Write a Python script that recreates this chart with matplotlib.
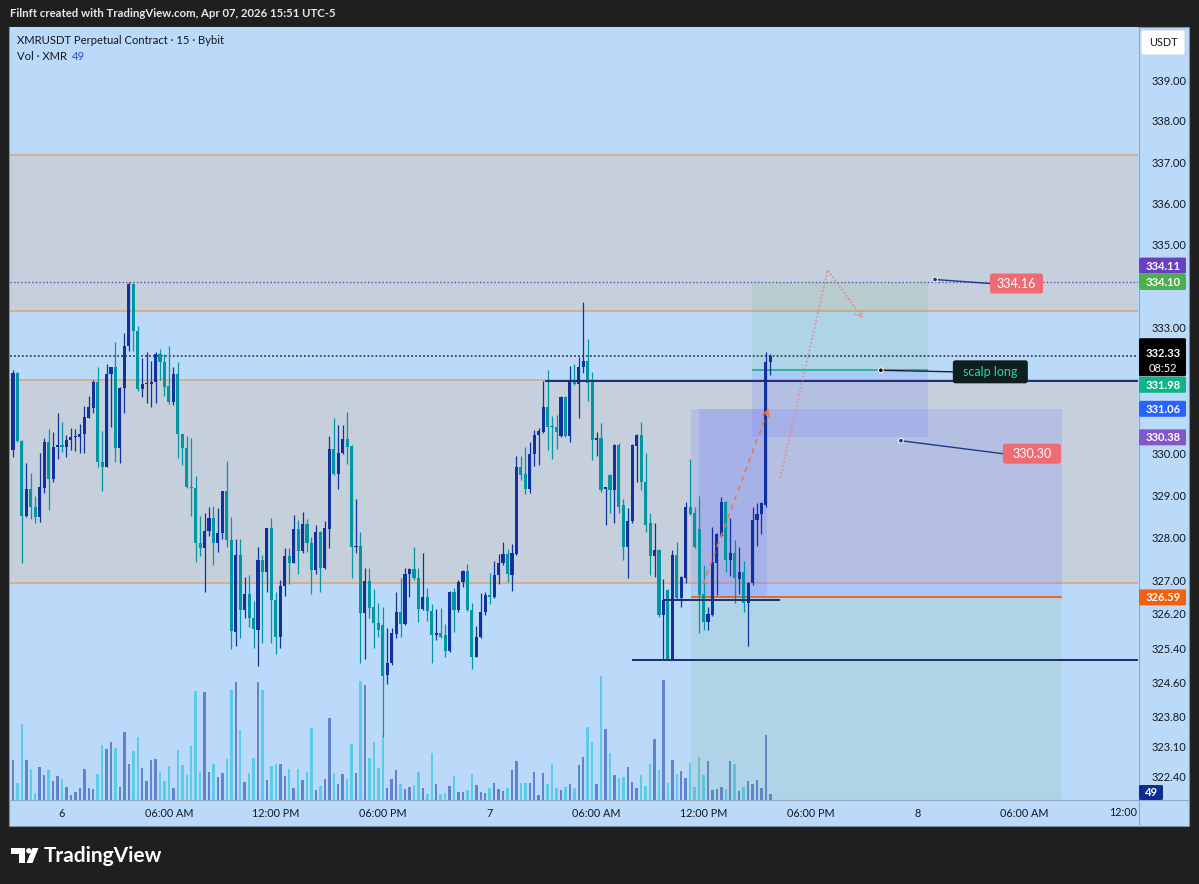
import numpy as np
import matplotlib
matplotlib.use("Agg")
import matplotlib.pyplot as plt
from matplotlib.patches import Rectangle, Polygon, Circle, FancyBboxPatch
from matplotlib.lines import Line2D
from matplotlib.ticker import FixedLocator, NullLocator, FixedFormatter, NullFormatter
from matplotlib.transforms import IdentityTransform

plt.rcParams['font.family'] = ['Lato', 'DejaVu Sans']

# ---------------- data (15m candles, bar 0 = Apr 6 00:00) ----------------
first_bar = -11
opens = [330.08, 331.91, 330.29, 328.52, 329.16, 328.73, 328.49, 329.18, 330.27, 329.39, 330.15,
         330.20, 330.15, 330.32, 330.39, 330.39, 330.46, 330.84, 331.08, 331.69, 329.80,
         329.68, 331.88, 332.05, 330.13, 331.55, 332.57, 334.06, 332.92, 331.53, 331.65,
         331.65, 331.69, 332.36, 332.19, 331.60, 331.22, 331.88, 330.46, 330.13, 329.21,
         329.18, 327.88, 327.76, 328.16, 328.47, 327.88, 328.11, 329.11, 327.95, 325.77,
         327.59, 326.29, 326.67, 326.10, 325.82, 327.48, 327.19, 328.23, 326.53, 325.65,
         326.86, 327.57, 327.40, 328.21, 327.69, 328.33, 327.88, 327.24, 328.14, 327.29,
         328.21, 330.10, 329.51, 330.01, 330.34, 330.18, 327.78, 327.81, 326.22, 326.98,
         326.36, 325.98, 325.95, 324.77, 325.04, 325.72, 326.24, 325.96, 327.14, 327.26,
         327.05, 326.31, 326.60, 326.27, 325.70, 325.75, 325.70, 325.32, 326.72, 326.29,
         326.95, 327.21, 326.29, 325.20, 325.65, 326.24, 326.65, 326.60, 327.12, 327.40,
         327.62, 327.12, 327.62, 329.68, 329.51, 329.16, 329.99, 330.44, 330.51, 331.10,
         330.65, 330.63, 330.41, 331.34, 330.41, 331.76, 331.65, 332.05, 332.21, 331.69,
         330.32, 330.37, 329.16, 329.49, 329.13, 330.20, 328.78, 327.78, 328.40, 330.18,
         330.44, 329.32, 328.35, 327.57, 327.71, 326.17, 326.77, 325.15, 327.59, 326.57,
         327.05, 328.73, 328.59, 328.21, 326.67, 326.01, 326.17, 327.40, 328.04, 328.85,
         327.48, 327.64, 327.02, 327.19, 326.46, 326.93, 328.42, 328.57, 328.78, 332.17]
closes = [331.91, 330.30, 328.52, 329.16, 328.73, 328.49, 329.21, 330.27, 329.39, 330.15, 330.20,
          330.15, 330.32, 330.39, 330.41, 330.46, 330.86, 331.10, 331.69, 329.80, 329.68,
          331.88, 332.05, 330.13, 331.55, 332.57, 334.06, 332.92, 331.53, 331.65, 331.67,
          331.69, 332.36, 332.17, 331.57, 331.22, 331.88, 330.46, 330.13, 329.21, 329.18,
          327.88, 327.76, 328.16, 328.47, 327.88, 328.11, 329.11, 327.95, 325.79, 327.59,
          326.29, 326.67, 326.10, 325.84, 327.48, 327.19, 328.23, 326.53, 325.65, 326.86,
          327.57, 327.40, 328.21, 327.69, 328.33, 327.88, 327.24, 328.14, 327.29, 328.23,
          330.10, 329.51, 330.01, 330.34, 330.15, 327.78, 327.81, 326.22, 326.98, 326.34,
          325.98, 325.82, 324.75, 325.06, 325.75, 326.24, 325.96, 327.14, 327.26, 327.05,
          326.31, 326.60, 326.27, 325.70, 325.75, 325.67, 325.32, 326.72, 326.29, 326.95,
          327.21, 326.29, 325.18, 325.65, 326.24, 326.65, 326.60, 327.12, 327.40, 327.62,
          327.14, 327.64, 329.68, 329.49, 329.16, 329.99, 330.44, 330.53, 331.10, 330.63,
          330.63, 330.51, 331.34, 330.41, 331.76, 331.65, 332.05, 332.21, 331.67, 330.32,
          330.37, 329.13, 329.18, 329.13, 330.20, 328.73, 327.78, 328.40, 330.20, 330.44,
          329.32, 328.30, 327.57, 327.71, 326.17, 326.53, 325.15, 327.59, 326.57, 327.07,
          328.73, 328.57, 327.78, 326.65, 326.01, 326.20, 327.43, 328.09, 328.85, 327.48,
          327.64, 327.05, 327.19, 326.46, 326.93, 328.42, 328.57, 328.83, 332.19, 332.33]
highs = [331.98, 331.93, 330.32, 329.77, 329.54, 328.99, 330.01, 330.37, 330.58, 330.51, 330.96,
         330.74, 330.44, 330.60, 330.58, 330.70, 331.12, 331.36, 331.74, 332.07, 330.53,
         332.12, 332.07, 332.66, 331.57, 332.88, 334.11, 334.08, 333.04, 332.28, 332.43,
         332.21, 332.43, 332.50, 332.38, 332.57, 332.07, 332.19, 330.46, 330.41, 330.37,
         329.47, 328.52, 328.59, 328.73, 328.75, 328.71, 329.11, 329.82, 328.49, 327.97,
         327.97, 327.07, 327.12, 326.50, 327.78, 327.59, 328.23, 328.47, 326.72, 327.00,
         327.76, 327.76, 328.54, 328.42, 328.61, 328.45, 328.02, 328.30, 328.16, 328.40,
         330.41, 330.84, 330.67, 330.67, 330.98, 330.20, 328.92, 328.14, 327.29, 327.29,
         326.79, 326.46, 326.36, 325.86, 325.86, 326.72, 327.05, 327.29, 327.29, 327.78,
         327.29, 327.64, 326.81, 326.43, 326.31, 326.34, 325.96, 326.74, 326.81, 327.00,
         327.24, 327.38, 326.46, 325.91, 326.69, 326.72, 327.17, 327.45, 327.62, 327.90,
         327.74, 327.85, 329.94, 329.94, 330.15, 330.27, 330.55, 330.60, 331.72, 331.98,
         330.89, 330.91, 331.36, 331.36, 332.09, 332.14, 332.31, 333.63, 332.73, 331.95,
         330.51, 330.72, 329.21, 329.51, 330.22, 330.25, 328.92, 328.71, 330.22, 330.46,
         330.74, 330.01, 328.59, 328.35, 327.73, 327.02, 326.79, 327.71, 327.90, 327.09,
         328.85, 329.87, 328.73, 328.99, 327.36, 326.36, 328.26, 328.11, 328.97, 328.87,
         328.47, 327.95, 327.78, 327.45, 326.95, 328.73, 328.83, 328.85, 332.43, 332.38]
lows = [329.92, 330.27, 327.40, 328.49, 328.45, 328.35, 328.38, 329.06, 328.66, 329.32, 329.87,
        330.03, 329.92, 330.08, 330.06, 330.01, 330.01, 330.84, 330.96, 329.68, 329.11,
        329.68, 330.63, 329.80, 329.77, 330.96, 332.45, 332.45, 331.48, 331.34, 331.20,
        331.10, 331.20, 331.74, 331.36, 331.17, 331.15, 329.89, 329.73, 329.18, 328.52,
        327.43, 327.57, 326.72, 328.04, 327.36, 327.66, 327.97, 327.78, 325.37, 325.46,
        325.63, 326.10, 325.89, 325.41, 324.99, 325.51, 326.72, 325.51, 325.27, 325.39,
        326.62, 326.91, 327.40, 327.14, 327.64, 327.66, 326.67, 327.14, 326.72, 327.26,
        327.76, 329.49, 329.16, 329.99, 329.75, 327.05, 327.64, 325.06, 325.15, 326.10,
        325.41, 325.65, 323.33, 324.56, 325.01, 325.63, 325.67, 325.94, 326.60, 327.00,
        326.01, 326.29, 326.03, 325.04, 325.58, 325.63, 325.18, 325.30, 325.77, 326.24,
        326.84, 326.27, 324.92, 325.18, 325.63, 326.17, 326.43, 326.57, 326.91, 327.36,
        326.95, 326.74, 327.60, 329.37, 329.04, 329.06, 329.70, 329.73, 330.49, 330.08,
        329.87, 330.10, 330.39, 330.39, 330.27, 331.62, 330.84, 331.91, 331.24, 329.84,
        329.94, 329.09, 328.30, 328.59, 328.35, 328.59, 327.48, 327.05, 328.35, 329.32,
        329.13, 328.14, 327.12, 327.07, 326.13, 325.11, 325.11, 325.11, 326.53, 326.36,
        326.93, 328.54, 327.76, 325.75, 325.82, 325.82, 326.15, 326.65, 328.02, 327.19,
        327.09, 326.46, 326.67, 326.24, 325.44, 326.88, 327.81, 328.09, 328.73, 331.86]
volumes = [328, 139, 621, 328, 252, 57, 268, 205, 244, 158, 197, 172, 104, 41, 66, 101, 252, 101, 88, 213,
           449, 418, 478, 426, 104, 558, 293, 399, 519, 260, 158, 330, 336, 230, 158, 276, 101, 410, 287, 207,
           440, 894, 230,
           886, 227, 293, 189, 221, 336, 902, 968, 574, 150, 221, 347, 968, 902, 164, 276, 293, 293, 197, 252,
           96, 252, 166, 227, 590, 80, 117, 172, 670, 219, 129, 213, 172, 457, 221, 976, 943, 344, 473, 262,
           533, 96, 175, 246,
           129, 88, 109, 121, 227, 96, 49, 385, 129, 49, 57, 112, 197, 66, 66, 80, 213, 121, 66, 57,
           96, 142, 88, 74, 96, 244, 322, 142, 142, 142, 230, 41, 221, 129, 293, 96, 80, 109, 129, 96,
           285, 355, 599,
           478, 129, 1017, 582, 385, 205, 180, 186, 268, 150, 96, 205, 112, 293, 503, 244, 984, 142, 330, 213,
           235, 180, 301, 104, 355, 205, 322, 80, 88, 109, 88, 322, 293, 74, 104, 158, 129, 166, 96, 535, 49]

price_ticks = [339.0, 338.0, 337.0, 336.0, 335.0, 333.0, 330.0, 329.0, 328.0, 327.0,
               326.2, 325.4, 324.6, 323.8, 323.1, 322.4]
time_tick_bars = [0, 24, 48, 72, 96, 120, 144, 168, 192, 216]
time_tick_labels = ["6", "06:00 AM", "12:00 PM", "06:00 PM", "7", "06:00 AM", "12:00 PM", "06:00 PM", "8", "06:00 AM"]

zones = [(326.92, 331.76), (333.41, 337.17)]
day_high = 334.11
last_price = 332.33
pos1 = dict(x0=141.2, x1=224.5, entry=326.59, upper=331.06, lower=321.0)
pos1_box = dict(x0=143.0, x1=158.2)
pos2 = dict(x0=154.9, x1=194.4, entry=331.98, target=334.10, stop=330.38)
navy_lines = [(331.72, 108.4, None), (326.53, 134.9, 161.2), (325.11, 127.9, None)]
red_path = [(161.2, 329.42), (171.9, 334.39), (179.6, 333.25)]
orange_arrow = [(143.9, 326.90), (158.5, 331.03)]

# ---------------- colours ----------------
BG = '#bbdafa'
ZONE = '#c5d0dc'
ZLINE = '#d9a97b'
UP = '#11319c'
DN = '#0096a2'
VUP = '#6282d0'
VDN = '#5ccbe8'
NAVY = '#1b2d6e'
DARK = '#1f1f1f'
TXT = '#131722'

W, H = 1199, 884
fig = plt.figure(figsize=(W / 100, H / 100), dpi=100)
fig.patch.set_facecolor(DARK)
ID = IdentityTransform()

# panel background
fig.add_artist(Rectangle((9, H - 826), 1180, 799, transform=ID, facecolor=BG,
                         edgecolor='#7d8ea3', lw=0.8, zorder=-5))

PL, PR, PT, PB = 10, 1138, 27, 800
rect = [PL / W, 1 - PB / H, (PR - PL) / W, (PB - PT) / H]
axv = fig.add_axes(rect, label='vol')
ax = fig.add_axes(rect, label='price')
axv.set_zorder(0)
ax.set_zorder(1)
ax.patch.set_visible(False)
axv.set_facecolor(BG)

PX_PER_BAR = 4.455
X0PX = 62
xmin = (PL - X0PX) / PX_PER_BAR
xmax = (PR - X0PX) / PX_PER_BAR
for a in (ax, axv):
    a.set_xlim(xmin, xmax)
    for s in a.spines.values():
        s.set_visible(False)

ax.set_yscale('log')
ax.set_ylim(321.856, 340.2975)
ax.yaxis.set_major_locator(FixedLocator(price_ticks))
ax.yaxis.set_major_formatter(FixedFormatter([f"{t:.2f}" for t in price_ticks]))
ax.yaxis.set_minor_locator(NullLocator())
ax.yaxis.set_minor_formatter(NullFormatter())
ax.tick_params(axis='y', left=False, right=False, labelleft=False, labelright=True,
               pad=6.5, labelsize=8, labelcolor=TXT)
ax.set_xticks(time_tick_bars)
ax.set_xticklabels(time_tick_labels)
ax.tick_params(axis='x', length=0, pad=5.5, labelsize=7.8, labelcolor=TXT)
axv.set_xticks([]); axv.set_yticks([])

x = np.arange(first_bar, first_bar + len(opens))
o = np.array(opens); c = np.array(closes); h = np.array(highs); l = np.array(lows)
up = c >= o

# volume
axv.set_ylim(0, (PB - PT) * 8.2)
axv.bar(x, volumes, width=0.55, color=[VUP if u else VDN for u in up], linewidth=0)

# zones
for lo_, hi_ in zones:
    ax.axhspan(lo_, hi_, color=ZONE, zorder=0.2, lw=0)
    ax.axhline(lo_, color=ZLINE, lw=1.2, zorder=0.4)
    ax.axhline(hi_, color=ZLINE, lw=1.2, zorder=0.4)

# position tools
STOPC = (0.44, 0.49, 0.99)
PROFC = (0.37, 0.66, 0.39)
ax.fill_between([pos1['x0'], pos1['x1']], pos1['entry'], pos1['upper'], color=STOPC, alpha=0.2, lw=0, zorder=1)
ax.fill_between([pos1['x0'], pos1['x1']], pos1['lower'], pos1['entry'], color=PROFC, alpha=0.12, lw=0, zorder=1)
ax.fill_between([pos1_box['x0'], pos1_box['x1']], pos1['entry'], pos1['upper'], color=STOPC, alpha=0.2, lw=0, zorder=1)
ax.hlines(pos1['entry'], pos1['x0'], pos1['x1'], color='#f0600f', lw=1.3, zorder=2)
ax.fill_between([pos2['x0'], pos2['x1']], pos2['entry'], pos2['target'], color=PROFC, alpha=0.12, lw=0, zorder=1)
ax.fill_between([pos2['x0'], pos2['x1']], pos2['stop'], pos2['entry'], color=STOPC, alpha=0.2, lw=0, zorder=1)
ax.hlines(pos2['entry'], pos2['x0'], pos2['x1'], color='#12b386', lw=1.2, zorder=2)

# dotted lines
ax.axhline(day_high, color='#5a4db5', lw=1.0, ls=(0, (1, 1.6)), zorder=2)
ax.axhline(last_price, color='#3b404c', lw=1.3, ls=(0, (1, 1.2)), zorder=2)

# navy horizontal lines
for p, a0, a1 in navy_lines:
    ax.hlines(p, a0, xmax if a1 is None else a1, color=NAVY, lw=1.4, zorder=4)

# candles
cc = [UP if u else DN for u in up]
ax.vlines(x, np.minimum(l, np.minimum(o, c)), np.maximum(h, np.maximum(o, c)), colors=cc, lw=0.9, zorder=3)
bot = np.minimum(o, c)
ht = np.maximum(np.abs(c - o), 0.03)
ax.bar(x, ht, bottom=bot, width=0.7, color=cc, linewidth=0, zorder=3.5)

# ---------------- pixel helpers ----------------
def to_px(i, price):
    X, Y = ax.transData.transform((i, price))
    return X, H - Y

def box_px(x0, y0, x1, y1, color, z=6, r=2.0, ec='none'):
    fig.add_artist(FancyBboxPatch((x0, H - y1), x1 - x0, y1 - y0,
                                  boxstyle=f'round,pad=0,rounding_size={r}', transform=ID,
                                  facecolor=color, edgecolor=ec, lw=0.8, zorder=z))

def text_px(xp, yp, s, **kw):
    fig.text(xp, H - yp, s, transform=ID, zorder=7, **kw)

def arrow_head(p_from, p_to, color, size=7, lw=1.1, ls='-'):
    x1, y1 = to_px(*p_from); x2, y2 = to_px(*p_to)
    d = np.array([x2 - x1, y2 - y1]); d = d / np.hypot(*d)
    n = np.array([-d[1], d[0]])
    tip = np.array([x2, y2])
    a = tip - d * size + n * size * 0.55
    b = tip - d * size - n * size * 0.55
    fig.add_artist(Line2D([a[0], tip[0], b[0]], [H - a[1], H - tip[1], H - b[1]], transform=ID,
                          color=color, lw=lw, ls=ls, zorder=5))

# arrows (dotted path + dashed arrow)
ax.plot([p[0] for p in red_path], [p[1] for p in red_path], color='#ef7f86', lw=1.1,
        ls=(0, (1, 1.5)), zorder=5)
arrow_head(red_path[-2], red_path[-1], '#ef7f86', size=7, lw=1.0, ls=(0, (1, 1)))
ax.plot([p[0] for p in orange_arrow], [p[1] for p in orange_arrow], color='#ef7a3c', lw=1.2,
        ls=(0, (3, 3)), zorder=5)
arrow_head(orange_arrow[0], orange_arrow[1], '#ef7a3c', size=6, lw=1.2)

# ---------------- price notes ----------------
def note(i, price, label, dx0, dx1, dy0, dy1, fc, tc, lc, dot_fc):
    dxp, dyp = to_px(i, price)
    bx0, bx1 = dxp + dx0, dxp + dx1
    by0, by1 = dyp + dy0, dyp + dy1
    fig.add_artist(Line2D([dxp, bx0], [H - dyp, H - (by0 + by1) / 2], transform=ID, color=lc, lw=1.0, zorder=6))
    box_px(bx0, by0, bx1, by1, fc, z=6, r=2.5)
    text_px((bx0 + bx1) / 2, (by0 + by1) / 2 + 0.5, label, color=tc, fontsize=9, ha='center', va='center')
    fig.add_artist(Circle((dxp, H - dyp), 2.4, transform=ID, facecolor=dot_fc, edgecolor='white', lw=0.7, zorder=6.5))

note(195.96, 334.16, '334.16', 55, 108, -6, 14, '#ef6b73', 'white', '#1d3a8c', '#1d3a8c')
note(188.3, 330.30, '330.30', 102, 160, 3, 23, '#ef6b73', 'white', '#1d3a8c', '#1d3a8c')
note(183.8, 331.98, 'scalp long', 72, 147, -10, 13, '#0f1f1d', '#2bd69c', '#1b2430', '#111111')

# ---------------- price-axis labels ----------------
LX0, LX1 = 1139, 1186
def axis_label(price, text, color, shift=0, tc='white', hgt=16):
    _, yp = to_px(0, price)
    yc = yp + shift
    box_px(LX0, yc - hgt / 2, LX1, yc + hgt / 2, color, z=6, r=1.5)
    text_px(1163, yc + 0.5, text, color=tc, fontsize=8, ha='center', va='center', fontweight='bold')

axis_label(334.11, '334.11', '#6a3fc1', shift=-16)
axis_label(334.10, '334.10', '#4caf50')
axis_label(331.98, '331.98', '#0fb386', shift=14.5)
axis_label(331.06, '331.06', '#2962ff')
axis_label(330.38, '330.38', '#8357c8')
axis_label(pos1['entry'], '326.59', '#f0600f')
_, yp_last = to_px(0, last_price)
box_px(LX0, yp_last - 17.5, LX1, yp_last + 20.5, '#000000', z=6, r=1.5)
text_px(1163, yp_last - 2, '332.33', color='white', fontsize=8, ha='center', va='center', fontweight='bold')
text_px(1163, yp_last + 13, '08:52', color='white', fontsize=8, ha='center', va='center')

# volume label
box_px(1139, 785, 1163, 800, '#0e2d8f', z=6, r=1.5)
text_px(1151, 792.5, str(volumes[-1]), color='white', fontsize=8, ha='center', va='center', fontweight='bold')

# USDT box
box_px(1141, 30, 1185, 55, 'white', z=6, r=3, ec='#d0d8e4')
text_px(1163, 42.5, 'USDT', color=TXT, fontsize=7.8, ha='center', va='center')

# separators
fig.add_artist(Line2D([9, 1189], [H - 800, H - 800], transform=ID, color='#93a6bd', lw=0.8, zorder=4))
fig.add_artist(Line2D([1138.5, 1138.5], [H - 27, H - 826], transform=ID, color='#93a6bd', lw=0.8, zorder=4))

# last time label, clipped at right edge
text_px(1137, 813, '12:00', color=TXT, fontsize=7.8, ha='right', va='center')

# header / legend
text_px(10, 13.5, 'Filnft created with TradingView.com, Apr 07, 2026 15:51 UTC-5',
        color='#e6e8ee', fontsize=8.2, fontweight='bold', ha='left', va='center')
text_px(17, 40, 'XMRUSDT Perpetual Contract · 15 · Bybit', color=TXT, fontsize=8.1, ha='left', va='center')
text_px(17, 56, 'Vol · XMR', color=TXT, fontsize=8.1, ha='left', va='center')
text_px(72, 56, '49', color='#2b4fc7', fontsize=8.1, ha='left', va='center')

# TradingView logo
def poly_px(pts, color):
    fig.add_artist(Polygon([(px, H - py) for px, py in pts], closed=True, transform=ID,
                           facecolor=color, edgecolor='none', zorder=6))
poly_px([(11, 848), (25, 848), (25, 863), (19, 863), (19, 853.5), (11, 853.5)], 'white')
fig.add_artist(Circle((28.8, H - 850.8), 2.7, transform=ID, facecolor='white', edgecolor='none', zorder=6))
poly_px([(32.5, 848), (38.5, 848), (32.5, 863), (26.5, 863)], 'white')
text_px(44, 856, 'TradingView', color='white', fontsize=15, fontweight='bold', ha='left', va='center')

fig.savefig('out.png', dpi=100, facecolor=DARK)
